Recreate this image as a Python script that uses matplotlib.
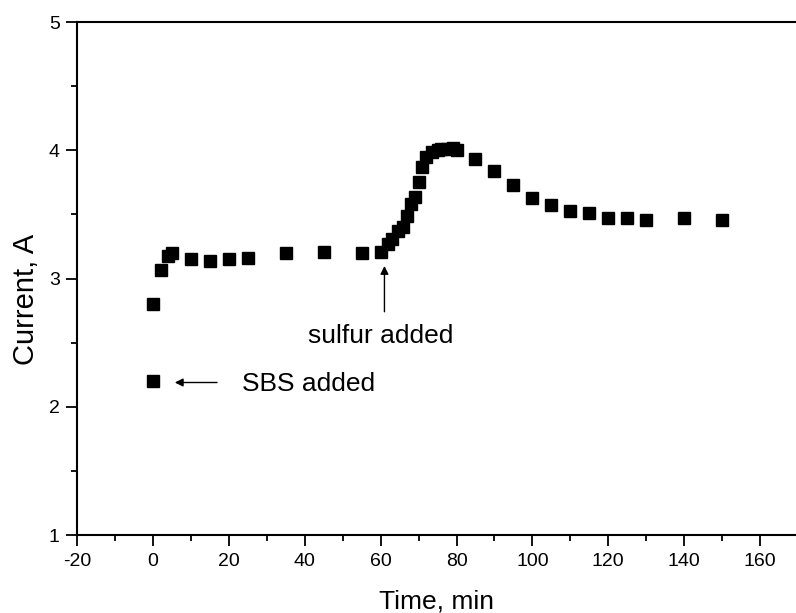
import matplotlib
matplotlib.use("Agg")
import matplotlib.pyplot as plt
from matplotlib.ticker import MultipleLocator

plt.rcParams['font.family'] = ['Liberation Sans', 'DejaVu Sans']
plt.rcParams['axes.unicode_minus'] = False

# --- data ---
time_min = [0, 0, 2, 4, 5, 10, 15, 20, 25, 35, 45, 55,
            60, 62, 63, 64.5, 66, 67, 68, 69, 70, 71, 72, 73.5, 75, 76, 77.5, 79, 80,
            85, 90, 95, 100, 105, 110, 115, 120, 125, 130, 140, 150]
current_A = [2.20, 2.80, 3.07, 3.18, 3.20, 3.15, 3.14, 3.15, 3.16, 3.20, 3.21, 3.20,
             3.21, 3.27, 3.31, 3.37, 3.40, 3.49, 3.58, 3.64, 3.75, 3.87, 3.95, 3.99, 4.00, 4.01, 4.01, 4.02, 4.00,
             3.93, 3.84, 3.73, 3.63, 3.57, 3.53, 3.51, 3.47, 3.47, 3.46, 3.47, 3.46]

x_ticks = [-20, 0, 20, 40, 60, 80, 100, 120, 140, 160]
y_ticks = [1, 2, 3, 4, 5]

fig = plt.figure(figsize=(7.96, 6.13), dpi=100)
ax = fig.add_axes([0.097, 0.127, 0.903, 0.837])

ax.plot(time_min, current_A, linestyle='none', marker='s', ms=8, color='black')

ax.set_xlim(-20, 169.5)
ax.set_ylim(1, 5)
ax.set_xticks(x_ticks)
ax.set_yticks(y_ticks)
ax.xaxis.set_minor_locator(MultipleLocator(10))
ax.yaxis.set_minor_locator(MultipleLocator(0.5))
ax.tick_params(which='major', direction='out', length=8, width=1.3, labelsize=14, pad=4.5)
ax.tick_params(which='minor', direction='out', length=4.3, width=1.3)
for side in ['left', 'bottom', 'top']:
    ax.spines[side].set_linewidth(1.5)
ax.spines['right'].set_visible(False)

ax.set_xlabel('Time, min', fontsize=19)
ax.set_ylabel('Current, A', fontsize=21)
ax.xaxis.set_label_coords(0.5, -0.105)
ax.yaxis.set_label_coords(-0.052, 0.46)

# annotations
ax.annotate('', xy=(5, 2.19), xytext=(17.6, 2.19),
            arrowprops=dict(arrowstyle='-|>', color='black', lw=1, mutation_scale=12))
ax.text(23.4, 2.125, 'SBS added', fontsize=19, va='baseline', ha='left')
ax.annotate('', xy=(61, 3.12), xytext=(61, 2.72),
            arrowprops=dict(arrowstyle='-|>', color='black', lw=1, mutation_scale=12))
ax.text(40.8, 2.50, 'sulfur added', fontsize=19, va='baseline', ha='left')

fig.savefig('out.png', dpi=100)
